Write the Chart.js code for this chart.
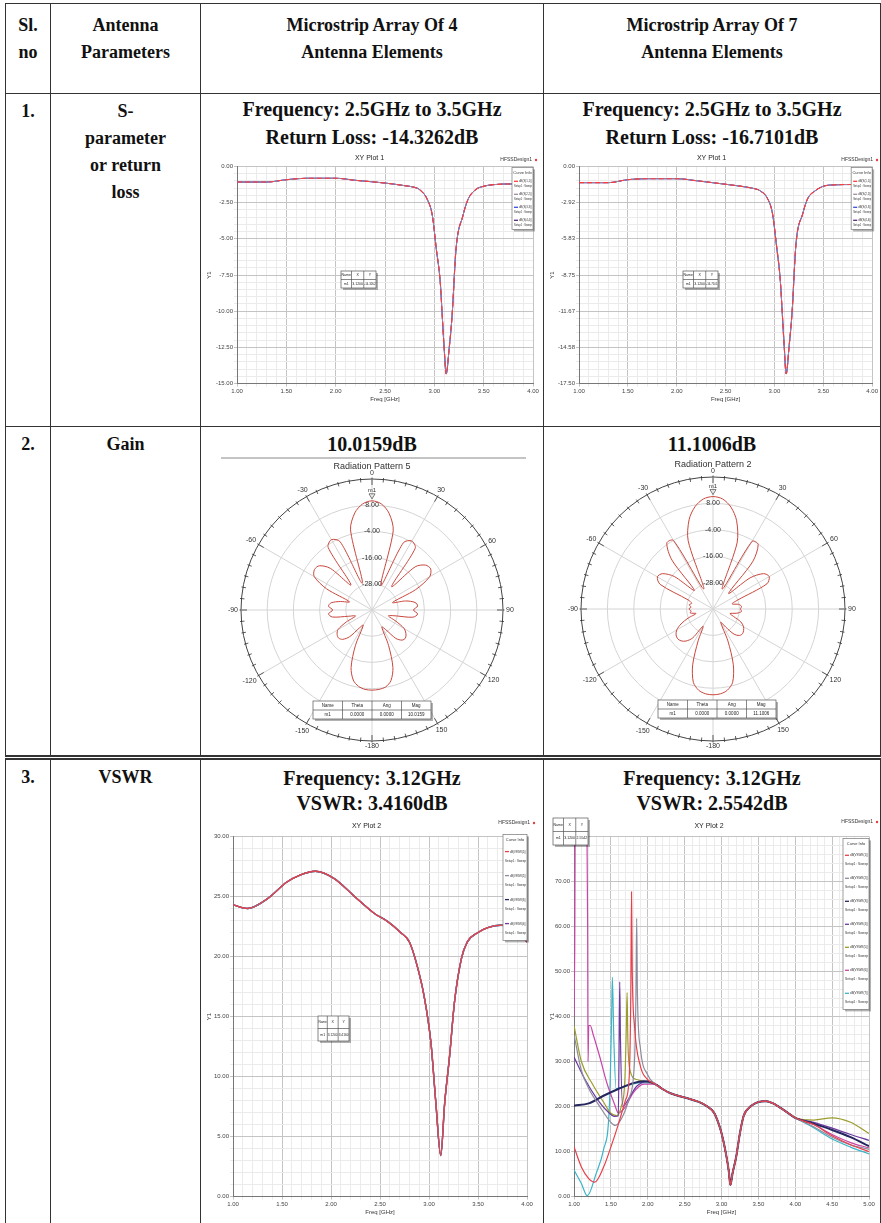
<!DOCTYPE html>
<html>
<head>
<meta charset="utf-8">
<script src="https://cdn.jsdelivr.net/npm/chart.js@4.4.0/dist/chart.umd.min.js"></script>
<style>
    body { margin: 0; background: #fff; width: 881px; height: 1223px; overflow: hidden; font-family: "Liberation Serif", "Times New Roman", serif; }
    table { position: absolute; left: 5px; top: 3px; border-collapse: collapse; table-layout: fixed; }
    td { border: 1.5px solid #333; vertical-align: top; text-align: center; font-weight: bold; font-size: 18px; color: #111; padding: 0; }
    tr.hdr td { height: 90px; padding-top: 8px; line-height: 27px; box-sizing: border-box; }
    tr.r1 td { height: 332px; }
    tr.r2 td { height: 327px; border-bottom: 5px double #333; }
    tr.r3 td { height: 470px; }
    .txt { padding-top: 4px; line-height: 27px; }
    .hd { font-size: 20px; line-height: 28px; padding-top: 1px; }
    .hd2 { font-size: 20px; line-height: 26px; padding-top: 4px; }
    .hd3 { font-size: 20px; line-height: 25px; padding-top: 6px; }
    .rule { margin: 0 17px 0 20px; border-bottom: 2px solid #c4c4c4; }
    .cw { position: relative; margin-left: 3px; }
</style>
</head>
<body>
<table>
    <colgroup><col style="width:45px"><col style="width:150px"><col style="width:343px"><col style="width:337px"></colgroup>
    <tr class="hdr">
        <td>Sl.<br>no</td>
        <td>Antenna<br>Parameters</td>
        <td>Microstrip Array Of 4<br>Antenna Elements</td>
        <td>Microstrip Array Of 7<br>Antenna Elements</td>
    </tr>
    <tr class="r1">
        <td><div class="txt">1.</div></td>
        <td><div class="txt">S-<br>parameter<br>or return<br>loss</div></td>
        <td><div class="hd">Frequency: 2.5GHz to 3.5GHz<br>Return Loss: -14.3262dB</div>
            <div class="cw" style="width:336px;height:252px"><canvas id="s4"></canvas></div></td>
        <td><div class="hd">Frequency: 2.5GHz to 3.5GHz<br>Return Loss: -16.7101dB</div>
            <div class="cw" style="width:332px;height:252px"><canvas id="s7"></canvas></div></td>
    </tr>
    <tr class="r2">
        <td><div class="txt">2.</div></td>
        <td><div class="txt">Gain</div></td>
        <td><div class="hd2">10.0159dB</div><div class="rule"></div>
            <div class="cw" style="width:336px;height:296px"><canvas id="g4"></canvas></div></td>
        <td><div class="hd2">11.1006dB</div>
            <div class="cw" style="width:332px;height:298px"><canvas id="g7"></canvas></div></td>
    </tr>
    <tr class="r3">
        <td><div class="txt">3.</div></td>
        <td><div class="txt">VSWR</div></td>
        <td><div class="hd3">Frequency: 3.12GHz<br>VSWR: 3.4160dB</div>
            <div class="cw" style="width:336px;height:400px"><canvas id="v4"></canvas></div></td>
        <td><div class="hd3">Frequency: 3.12GHz<br>VSWR: 2.5542dB</div>
            <div class="cw" style="width:332px;height:400px"><canvas id="v7"></canvas></div></td>
    </tr>
</table>

<script>
    // ---- S-parameter (return loss) data, dB vs GHz ----
    const sFreq = [1.0, 1.3, 1.5, 1.7, 2.0, 2.2, 2.5, 2.7, 2.8, 2.85, 2.93, 2.98, 3.02, 3.06, 3.08, 3.1, 3.12, 3.15, 3.18, 3.22, 3.29, 3.34, 3.42, 3.5, 3.6, 3.8, 4.0];
    const s11Array4 = [-1.08, -1.08, -0.92, -0.82, -0.82, -0.96, -1.15, -1.33, -1.45, -1.6, -2.3, -3.4, -5.7, -8.0, -10.3, -12.6, -14.33, -12.6, -10.3, -5.7, -3.4, -2.3, -1.6, -1.37, -1.26, -1.21, -1.21];
    const s11Array7 = [-1.31, -1.31, -1.07, -0.99, -0.99, -1.15, -1.44, -1.65, -1.8, -1.95, -2.6, -3.8, -6.3, -9.2, -11.8, -14.5, -16.71, -14.5, -11.8, -6.3, -3.8, -2.6, -1.95, -1.6, -1.49, -1.46, -1.46];
    const sCurveNames = ['dB(S(1,1))', 'dB(S(2,2))', 'dB(S(3,3))', 'dB(S(4,4))'];

    // ---- Radiation pattern, gain dB vs theta (deg) ----
    const theta = [0, 5, 10, 15, 20, 25, 30, 35, 40, 45, 50, 55, 60, 65, 70, 75, 80, 85, 90, 95, 100, 105, 110, 115, 120, 125, 130, 135, 140, 145, 150, 155, 160, 165, 170, 175,
        -180, -175, -170, -165, -160, -155, -150, -145, -140, -135, -130, -125, -120, -115, -110, -105, -100, -95, -90, -85, -80, -75, -70, -65, -60, -55, -50, -45, -40, -35, -30, -25, -20, -15, -10, -5];
    const gainArray4 = [10.0, 8.8, 5.0, -2.5, -28, -6.0, -3.5, -5.5, -26, -12, -8, -7.2, -9.5, -18, -30, -24, -20, -19, -21, -19, -21, -30, -32, -28, -23, -21, -20, -20.5, -23, -29, -31, -22, -12, -6.5, -4.2, -3.5,
        -3.3, -3.5, -4.5, -6.8, -12, -22, -32, -30, -24, -21, -20, -20.5, -22, -27, -32, -29, -21.5, -20, -22, -20, -21, -25, -29, -17, -9.5, -7.8, -8.5, -13, -25, -5, -2.8, -5.5, -27, -2, 5.2, 8.8];
    const gainArray7 = [11.1, 10.2, 7.0, 1.5, -8, -30, -4.5, -4.2, -12, -30, -18, -12, -10.5, -13, -28, -31, -28, -27, -27.5, -27, -29, -32, -30, -26, -24, -23, -22.5, -23, -25, -30, -33, -24, -13, -5.5, -2.5, -1.3,
        -1.0, -1.3, -2.5, -5.5, -13, -24, -31, -24, -21, -19.5, -19, -19.5, -21, -24, -28, -32, -29.5, -30, -29, -30, -29, -30, -28, -13.5, -10.8, -12, -17, -28, -11, -3.4, -4, -30, -7, 2, 7.2, 10.2];

    // ---- VSWR (dB) vs GHz, 4 elements ----
    const vswrFreq4 = [1.0, 1.15, 1.35, 1.55, 1.69, 1.84, 2.03, 2.24, 2.44, 2.58, 2.71, 2.8, 2.88, 2.95, 3.02, 3.07, 3.12, 3.16, 3.21, 3.26, 3.33, 3.39, 3.5, 3.6, 3.73, 3.87, 4.0];
    const vswrArray4 = [24.3, 24.0, 24.8, 26.2, 26.8, 27.1, 26.5, 25.0, 23.6, 22.9, 22.0, 21.2, 19.2, 16.7, 12.8, 7.8, 3.42, 7.8, 11.7, 16.2, 19.8, 21.2, 22.0, 22.4, 22.6, 22.5, 21.2];
    const vswrNames4 = ['dB(VSWR(1))', 'dB(VSWR(2))', 'dB(VSWR(3))', 'dB(VSWR(4))'];

    // ---- VSWR (dB) vs GHz, 7 elements: own low band, shared middle, own tail ----
    const vswrNames7 = ['dB(VSWR(1))', 'dB(VSWR(2))', 'dB(VSWR(3))', 'dB(VSWR(4))', 'dB(VSWR(5))', 'dB(VSWR(6))', 'dB(VSWR(7))'];
    const vswrLowFreq7 = [
        [1.0, 1.1, 1.2, 1.28, 1.4, 1.5, 1.6, 1.7, 1.75, 1.77, 1.78, 1.79, 1.82, 1.9, 2.0],
        [1.0, 1.1, 1.2, 1.35, 1.5, 1.56, 1.65, 1.75, 1.82, 1.84, 1.85, 1.86, 1.9, 2.0],
        [1.0, 1.2, 1.4, 1.6, 1.8, 1.95, 2.05],
        [1.0, 1.15, 1.3, 1.45, 1.55, 1.6, 1.61, 1.62, 1.63, 1.66, 1.75, 1.85, 2.0],
        [1.0, 1.1, 1.25, 1.4, 1.5, 1.58, 1.64, 1.69, 1.71, 1.72, 1.73, 1.76, 1.85, 2.0],
        [1.0, 1.01, 1.02, 1.17, 1.185, 1.19, 1.2, 1.22, 1.26, 1.35, 1.45, 1.55, 1.6, 1.7, 1.8, 1.95],
        [1.0, 1.1, 1.18, 1.3, 1.4, 1.48, 1.51, 1.52, 1.54, 1.57, 1.7, 1.9]
    ];
    const vswrLowVal7 = [
        [11.1, 6.6, 4.0, 3.2, 6.5, 11.0, 16.0, 21.5, 27.0, 45.0, 67.7, 50.0, 38.0, 29.0, 26.0],
        [36.0, 28.0, 24.0, 20.0, 16.5, 15.8, 17.5, 22.0, 30.0, 45.0, 61.8, 45.0, 33.0, 27.0],
        [20.2, 20.7, 22.4, 23.9, 25.2, 25.6, 25.4],
        [31.0, 26.0, 22.0, 19.0, 17.8, 17.9, 30.0, 47.7, 35.0, 20.0, 22.0, 24.5, 25.6],
        [38.0, 30.0, 25.0, 21.0, 18.5, 18.0, 20.0, 26.0, 38.0, 45.3, 35.0, 28.0, 26.0, 25.5],
        [40.0, 55.0, 95.0, 95.0, 60.0, 30.0, 38.0, 38.0, 36.0, 31.0, 25.0, 20.5, 18.6, 20.0, 23.0, 25.0],
        [5.9, 2.9, 0.2, 5.1, 10.4, 20.2, 39.7, 48.7, 35.0, 24.0, 24.5, 25.3]
    ];
    const vswrMidFreq7 = [2.1, 2.2, 2.3, 2.5, 2.7, 2.8, 2.9, 2.95, 3.0, 3.05, 3.1, 3.12, 3.15, 3.2, 3.25, 3.3, 3.4, 3.5, 3.6, 3.7, 3.8, 3.9, 4.0];
    const vswrMidVal7 = [25.0, 23.9, 23.0, 22.0, 21.0, 20.1, 18.6, 16.7, 14.1, 10.4, 5.5, 2.55, 5.2, 8.9, 14.1, 17.9, 20.1, 21.0, 21.2, 20.7, 19.7, 18.6, 17.5];
    const vswrTailFreq7 = [4.25, 4.5, 4.75, 5.0];
    const vswrTailVal7 = [
        [16.0, 13.5, 11.5, 10.0],
        [15.5, 13.2, 11.5, 10.5],
        [16.2, 14.8, 13.2, 11.2],
        [16.5, 15.2, 13.8, 12.5],
        [17.0, 17.5, 16.5, 14.0],
        [16.0, 13.8, 12.0, 10.8],
        [15.3, 12.8, 11.0, 9.5]
    ];

    const SANS = '"Liberation Sans", Arial, sans-serif';
    const curveColors = ['#e8404a', '#8c8c9c', '#262660', '#6c3aa0', '#9c9c2c', '#c846a8', '#3cb4c8'];

    function pts(fs, vs) {
        return fs.map((f, i) => ({x: f, y: vs[i]}));
    }

    // small HFSS style boxes: design name, curve info box, marker table, m1 marker
    function drawTable(ctx, t) {
        ctx.fillStyle = 'rgba(0,0,0,0.3)';
        ctx.fillRect(t.x + 2, t.y + 2, t.w, t.h);
        ctx.fillStyle = '#fff';
        ctx.fillRect(t.x, t.y, t.w, t.h);
        ctx.strokeStyle = '#555';
        ctx.lineWidth = 0.7;
        ctx.strokeRect(t.x, t.y, t.w, t.h);
        ctx.beginPath();
        ctx.moveTo(t.x, t.y + t.h / 2);
        ctx.lineTo(t.x + t.w, t.y + t.h / 2);
        let cx = t.x;
        const cws = t.colW.map(c => c * t.w);
        cws.slice(0, -1).forEach(c => { cx += c; ctx.moveTo(cx, t.y); ctx.lineTo(cx, t.y + t.h); });
        ctx.stroke();
        ctx.font = t.font + 'px ' + SANS;
        ctx.fillStyle = '#222';
        ctx.textAlign = 'center';
        ctx.textBaseline = 'middle';
        [t.cols, t.row].forEach((r, ri) => {
            let x0 = t.x;
            r.forEach((s, ci) => {
                ctx.fillText(s, x0 + cws[ci] / 2, t.y + t.h / 4 + ri * t.h / 2, cws[ci] - 1);
                x0 += cws[ci];
            });
        });
    }

    const hfssDecor = {
        id: 'hfssDecor',
        afterDraw(chart, args, o) {
            if (!o || !o.on) return;
            const ctx = chart.ctx, a = chart.chartArea;
            ctx.save();
            ctx.textBaseline = 'middle';
            if (o.design) {
                ctx.font = '5px ' + SANS;
                ctx.fillStyle = '#333';
                ctx.textAlign = 'right';
                ctx.fillText('HFSSDesign1', chart.width - o.design.right, o.design.y);
                ctx.fillStyle = '#e04040';
                ctx.beginPath();
                ctx.arc(chart.width - o.design.right + 4, o.design.y, 1.2, 0, Math.PI * 2);
                ctx.fill();
            }
            if (o.box) {
                const L = o.box, sets = chart.data.datasets;
                const x = a.right - L.w - L.inset, y = a.top + L.top;
                const h = 10 + sets.length * L.rowH;
                ctx.fillStyle = 'rgba(0,0,0,0.3)';
                ctx.fillRect(x + 2, y + 2, L.w, h);
                ctx.fillStyle = '#fff';
                ctx.fillRect(x, y, L.w, h);
                ctx.strokeStyle = '#777';
                ctx.lineWidth = 0.7;
                ctx.strokeRect(x, y, L.w, h);
                ctx.font = '4px ' + SANS;
                ctx.fillStyle = '#333';
                ctx.textAlign = 'center';
                ctx.fillText('Curve Info', x + L.w / 2, y + 5);
                sets.forEach((d, i) => {
                    const yy = y + 10 + i * L.rowH + L.rowH * 0.3;
                    ctx.strokeStyle = d.borderColor;
                    ctx.lineWidth = 1.3;
                    ctx.beginPath();
                    ctx.moveTo(x + 2, yy);
                    ctx.lineTo(x + 6, yy);
                    ctx.stroke();
                    ctx.fillStyle = '#333';
                    ctx.textAlign = 'left';
                    ctx.fillText(d.label, x + 7, yy, L.w - 8);
                    ctx.fillText('Setup1 : Sweep', x + 2, yy + L.rowH * 0.38, L.w - 3);
                });
            }
            if (o.marker) drawTable(ctx, o.marker);
            if (o.peak) {
                const s = chart.scales.r;
                const v = chart.data.datasets[0].data[0];
                const p = s.getPointPosition(0, s.getDistanceFromCenterForValue(v));
                ctx.strokeStyle = '#555';
                ctx.lineWidth = 0.8;
                ctx.beginPath();
                ctx.moveTo(p.x - 3, p.y - 7);
                ctx.lineTo(p.x + 3, p.y - 7);
                ctx.lineTo(p.x, p.y - 2);
                ctx.closePath();
                ctx.stroke();
                ctx.font = '6px ' + SANS;
                ctx.fillStyle = '#333';
                ctx.textAlign = 'center';
                ctx.fillText('m1', p.x, p.y - 10);
            }
            if (o.angleTicks) {
                // tick marks on the outer ring and the theta labels every 30 deg
                const s = chart.scales.r;
                const R = s.drawingArea;
                ctx.strokeStyle = '#333';
                ctx.lineWidth = 0.8;
                ctx.beginPath();
                for (let i = 0; i < chart.data.labels.length; i++) {
                    const p1 = s.getPointPosition(i, R + 1.5);
                    const p2 = s.getPointPosition(i, R - (i % 6 === 0 ? 6 : 3));
                    ctx.moveTo(p1.x, p1.y);
                    ctx.lineTo(p2.x, p2.y);
                }
                ctx.stroke();
                ctx.font = '7px ' + SANS;
                ctx.fillStyle = '#333';
                ctx.textAlign = 'center';
                chart.data.labels.forEach((l, i) => {
                    if (i % 6 !== 0) return;
                    const txt = String(l);
                    const w = ctx.measureText(txt).width;
                    const ang = i / chart.data.labels.length * Math.PI * 2;
                    const off = R + 3 + Math.abs(Math.sin(ang)) * w / 2 + Math.abs(Math.cos(ang)) * 2.5;
                    const p = s.getPointPosition(i, off);
                    ctx.fillText(txt, p.x, p.y);
                });
            }
            ctx.restore();
        }
    };
    Chart.register(hfssDecor);

    function xyChart(id, c) {
        const tickFont = {size: 6, family: SANS};
        return new Chart(document.getElementById(id), {
            type: 'line',
            data: {datasets: c.datasets},
            options: {
                responsive: true,
                maintainAspectRatio: false,
                animation: false,
                layout: {padding: {left: 2, right: c.padRight, top: 0, bottom: 0}},
                elements: {point: {radius: 0}, line: {cubicInterpolationMode: 'monotone'}},
                plugins: {
                    legend: {display: false},
                    tooltip: {enabled: false},
                    title: {display: true, text: c.title, color: '#222', font: {size: 7, family: SANS, weight: 'normal'}, padding: {top: c.titleTop, bottom: c.titleBottom}},
                    hfssDecor: c.decor
                },
                scales: {
                    x: {
                        type: 'linear', min: c.xMin, max: c.xMax,
                        ticks: {stepSize: 0.1, autoSkip: false, maxRotation: 0, font: tickFont, color: '#444', padding: 1,
                            callback: (v, i) => i % 5 === 0 ? v.toFixed(2) : ''},
                        grid: {color: ctx => ctx.index % 5 === 0 ? '#c4c4c4' : '#ebebeb', tickLength: 3},
                        border: {color: '#777'},
                        title: {display: true, text: 'Freq [GHz]', color: '#333', font: tickFont, padding: 0}
                    },
                    y: {
                        min: c.yMin, max: c.yMax,
                        afterFit: s => { s.width = c.yWidth; },
                        ticks: {stepSize: c.yStep, autoSkip: false, font: tickFont, color: '#444', padding: 1,
                            callback: (v, i) => i % 5 === 0 ? v.toFixed(2) : ''},
                        grid: {color: ctx => ctx.index % 5 === 0 ? '#c4c4c4' : '#ebebeb', tickLength: 3},
                        border: {color: '#777'},
                        title: {display: true, text: 'Y1', color: '#333', font: tickFont, padding: 0}
                    }
                }
            }
        });
    }

    function sSets(vals) {
        return sCurveNames.map((n, i) => ({
            label: n,
            data: pts(sFreq, vals),
            borderColor: ['#ff3b3b', '#a08ca0', '#3a4ee0', '#5a2a7a'][i],
            borderWidth: i === 0 ? 1.1 : 1,
            borderDash: i === 0 ? [5, 3] : []
        }));
    }

    xyChart('s4', {
        title: 'XY Plot 1', titleTop: 3, titleBottom: 4, padRight: 7, yWidth: 31,
        xMin: 1, xMax: 4, yMin: -15, yMax: 0, yStep: 0.5,
        datasets: sSets(s11Array4),
        decor: {on: true, design: {right: 8, y: 9}, box: {w: 21, inset: 0, top: 1, rowH: 13},
            marker: {x: 137, y: 120, w: 35, h: 17, font: 3.5, colW: [0.3, 0.35, 0.35], cols: ['Name', 'X', 'Y'], row: ['m1', '3.1200', '-14.3262']}}
    });

    xyChart('s7', {
        title: 'XY Plot 1', titleTop: 3, titleBottom: 4, padRight: 5, yWidth: 30,
        xMin: 1, xMax: 4, yMin: -17.5, yMax: 0, yStep: 17.5 / 30,
        datasets: sSets(s11Array7),
        decor: {on: true, design: {right: 6, y: 9}, box: {w: 21, inset: 0, top: 1, rowH: 13},
            marker: {x: 136, y: 120, w: 35, h: 17, font: 3.5, colW: [0.3, 0.35, 0.35], cols: ['Name', 'X', 'Y'], row: ['m1', '3.1200', '-16.7101']}}
    });

    xyChart('v4', {
        title: 'XY Plot 2', titleTop: 6, titleBottom: 6, padRight: 13, yWidth: 27,
        xMin: 1, xMax: 4, yMin: 0, yMax: 30, yStep: 1,
        datasets: vswrNames4.map((n, i) => ({
            label: n,
            data: pts(vswrFreq4, vswrArray4),
            borderColor: [curveColors[0], curveColors[1], curveColors[2], curveColors[3]][i],
            borderWidth: i === 0 ? 1.2 : 1.4
        })),
        decor: {on: true, design: {right: 10, y: 7}, box: {w: 24, inset: 0, top: -2, rowH: 24},
            marker: {x: 114, y: 200, w: 31, h: 25, font: 3.5, colW: [0.3, 0.35, 0.35], cols: ['Name', 'X', 'Y'], row: ['m1', '3.1200', '3.4160']}}
    });

    xyChart('v7', {
        title: 'XY Plot 2', titleTop: 6, titleBottom: 6, padRight: 10, yWidth: 25,
        xMin: 1, xMax: 5, yMin: 0, yMax: 80, yStep: 2,
        datasets: vswrNames7.map((n, i) => ({
            label: n,
            data: pts(vswrLowFreq7[i].concat(vswrMidFreq7, vswrTailFreq7), vswrLowVal7[i].concat(vswrMidVal7, vswrTailVal7[i])),
            borderColor: curveColors[i],
            borderWidth: i === 2 ? 2 : 1.2
        })),
        decor: {on: true, design: {right: 6, y: 6}, box: {w: 26, inset: 0, top: 2, rowH: 23},
            marker: {x: 6, y: 2, w: 35, h: 27, font: 3.5, colW: [0.3, 0.35, 0.35], cols: ['Name', 'X', 'Y'], row: ['m1', '3.1200', '2.5542']}}
    });

    function polarChart(id, title, gains, mag, tableX, tableY) {
        return new Chart(document.getElementById(id), {
            type: 'radar',
            data: {
                labels: theta,
                datasets: [{label: 'Gain', data: gains, borderColor: '#c8463c', borderWidth: 1, pointRadius: 0, fill: false, tension: 0.3}]
            },
            options: {
                responsive: true,
                maintainAspectRatio: false,
                animation: false,
                layout: {padding: {top: 2, bottom: 7, left: 0, right: 0}},
                plugins: {
                    legend: {display: false},
                    tooltip: {enabled: false},
                    title: {display: true, text: title, color: '#333', font: {size: 9, family: SANS, weight: 'normal'}, padding: {top: 0, bottom: 2}},
                    hfssDecor: {on: true, peak: true, angleTicks: true,
                        marker: {x: tableX, y: tableY, w: 118, h: 18, font: 4.5, colW: [0.25, 0.25, 0.25, 0.25],
                            cols: ['Name', 'Theta', 'Ang', 'Mag'], row: ['m1', '0.0000', '0.0000', mag]}}
                },
                scales: {
                    r: {
                        min: -40, max: 20,
                        ticks: {stepSize: 12, showLabelBackdrop: false, color: '#333', font: {size: 7, family: SANS},
                            callback: v => (v === -40 || v === 20) ? '' : v.toFixed(2)},
                        grid: {circular: true, color: ctx => ctx.tick && ctx.tick.value === 20 ? '#444' : '#d4d4d4'},
                        angleLines: {color: ctx => ctx.index % 6 === 0 ? '#d4d4d4' : 'rgba(0,0,0,0)'},
                        pointLabels: {display: false}
                    }
                }
            }
        });
    }

    polarChart('g4', 'Radiation Pattern 5', gainArray4, '10.0159', 109, 242);
    polarChart('g7', 'Radiation Pattern 2', gainArray7, '11.1006', 111, 243);
</script>
</body>
</html>
